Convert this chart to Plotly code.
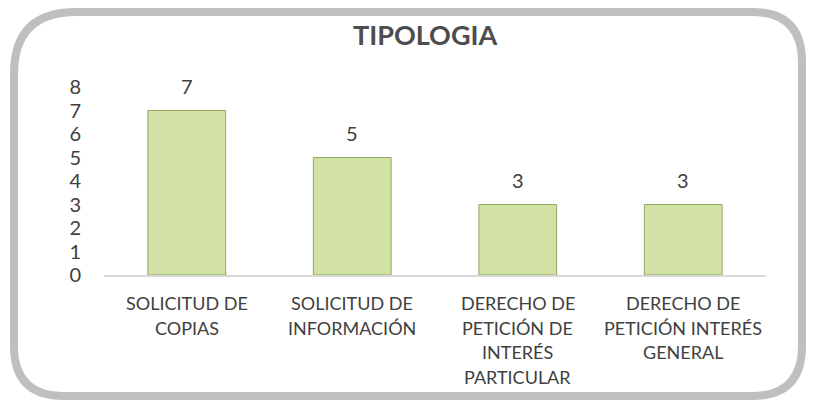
import plotly.graph_objects as go

categories = ["SOLICITUD DE COPIAS", "SOLICITUD DE INFORMACIÓN",
              "DERECHO DE PETICIÓN DE INTERÉS PARTICULAR",
              "DERECHO DE PETICIÓN INTERÉS GENERAL"]
label_lines = [["SOLICITUD DE", "COPIAS"],
               ["SOLICITUD DE", "INFORMACIÓN"],
               ["DERECHO DE", "PETICIÓN DE", "INTERÉS", "PARTICULAR"],
               ["DERECHO DE", "PETICIÓN INTERÉS", "GENERAL"]]
values = [7, 5, 3, 3]
y_ticks = [0, 1, 2, 3, 4, 5, 6, 7, 8]
title = "TIPOLOGIA"

# page is rendered with an 8px body margin; compensate
OFF = 8
PW, PH = 815, 404
W, H = PW - OFF, PH - OFF
L, R, T, B = 104, 766, 87, 275   # plot area in page pixels
FONT = "Lato, Calibri, sans-serif"
TXT = "#404040"

fig = go.Figure()
fig.add_trace(go.Bar(
    x=categories, y=values, width=0.47,
    marker=dict(color="#D2E2A4", line=dict(color="#93A765", width=1)),
    hoverinfo="x+y",
))

annotations = []
for c, v in zip(categories, values):
    annotations.append(dict(x=c, y=v, xref="x", yref="y", text=str(v),
                            showarrow=False, yshift=25, yanchor="middle",
                            font=dict(family=FONT, size=20, color=TXT)))
for c, lines in zip(categories, label_lines):
    for i, ln in enumerate(lines):
        annotations.append(dict(x=c, y=0, xref="x", yref="paper", text=ln,
                                showarrow=False, yanchor="middle",
                                yshift=-(28 + 24.5 * i),
                                font=dict(family=FONT, size=18, color=TXT)))

def px(xp):
    return (xp - L) / (R - L)

def py(yp):
    return (B - yp) / (B - T)

x0, x1, y0, y1 = 14, 802, 12, 396
r, rt = 62, 50
path = (f"M {px(x0 + r)},{py(y0)} L {px(x1 - rt)},{py(y0)} "
        f"Q {px(x1)},{py(y0)} {px(x1)},{py(y0 + rt)} "
        f"L {px(x1)},{py(y1 - rt)} Q {px(x1)},{py(y1)} {px(x1 - rt)},{py(y1)} "
        f"L {px(x0 + rt)},{py(y1)} Q {px(x0)},{py(y1)} {px(x0)},{py(y1 - rt)} "
        f"L {px(x0)},{py(y0 + r)} Q {px(x0)},{py(y0)} {px(x0 + r)},{py(y0)} Z")

fig.update_layout(
    width=W, height=H,
    margin=dict(l=L - OFF, r=W - (R - OFF), t=T - OFF, b=H - (B - OFF)),
    paper_bgcolor="white", plot_bgcolor="white",
    showlegend=False,
    font=dict(family=FONT, color=TXT),
    annotations=annotations + [dict(
        x=px(425), y=py(35), xref="paper", yref="paper", text="<b>" + title + "</b>",
        showarrow=False, xanchor="center", yanchor="middle",
        font=dict(family=FONT, size=27, color="#4D4D4D"))],
    shapes=[dict(type="path", path=path, xref="paper", yref="paper",
                 line=dict(color="#BFBFBF", width=8), layer="below")],
    xaxis=dict(showticklabels=False, showgrid=False, zeroline=False,
               showline=True, linecolor="#D9D9D9", linewidth=2, ticks=""),
    yaxis=dict(range=[0, 8], tickvals=y_ticks, showgrid=False, zeroline=False,
               showline=False, ticks="", ticklabelstandoff=22,
               tickfont=dict(family=FONT, size=20, color=TXT)),
)

fig.write_html("out.html")
